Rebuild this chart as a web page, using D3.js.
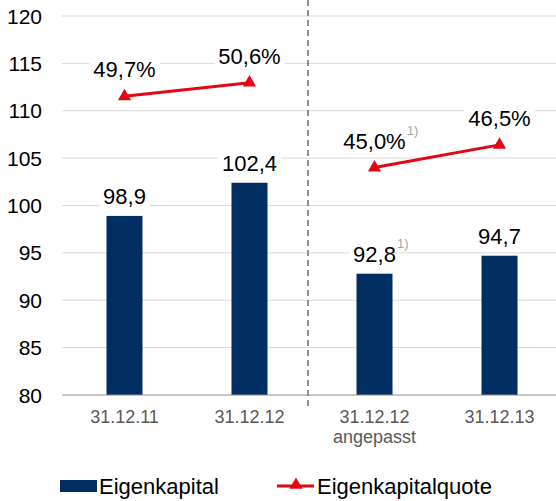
<!DOCTYPE html>
<html>
<head>
<script src="https://d3js.org/d3.v7.min.js"></script>
<style>
  body { margin: 0; background: #fff; }
  text { font-family: "Liberation Sans", Arial, sans-serif; }
</style>
</head>
<body>
<svg id="chart" width="556" height="501"></svg>
<script>
  // data
  var categories = ["31.12.11", "31.12.12", "31.12.12|angepasst", "31.12.13"];
  var eigenkapital = [98.9, 102.4, 92.8, 94.7];
  var quote = [49.7, 50.6, 45.0, 46.5];
  var barLabels = ["98,9", "102,4", "92,8", "94,7"];
  var quoteLabels = ["49,7%", "50,6%", "45,0%", "46,5%"];
  var footnote = [false, false, true, false];
  var yTicks = [80, 85, 90, 95, 100, 105, 110, 115, 120];

  var svg = d3.select("#chart");

  var x = d3.scaleBand().domain(categories).range([62, 562]).paddingInner(0).paddingOuter(0);
  var y = d3.scaleLinear().domain([80, 120]).range([395, 16]);
  var y2 = d3.scaleLinear().domain([30, 55]).range([395, 16]);
  var barW = 36;
  var cx = d => x(d) + x.bandwidth() / 2;

  // gridlines
  svg.selectAll("line.grid").data(yTicks.slice(1)).join("line")
    .attr("x1", 62).attr("x2", 556)
    .attr("y1", d => y(d)).attr("y2", d => y(d))
    .attr("stroke", "#d9d9d9").attr("stroke-width", 1);

  // y tick labels
  svg.selectAll("text.ytick").data(yTicks).join("text")
    .attr("x", 42).attr("y", d => y(d) + 7.5)
    .attr("text-anchor", "end")
    .style("font-size", "21px").attr("fill", "#000")
    .text(d => d);

  // bars
  svg.selectAll("rect.bar").data(eigenkapital).join("rect")
    .attr("x", (d, i) => cx(categories[i]) - barW / 2)
    .attr("width", barW)
    .attr("y", d => y(d))
    .attr("height", d => y(80) - y(d))
    .attr("fill", "#002d62");

  // axis line
  svg.append("line").attr("x1", 62).attr("x2", 556)
    .attr("y1", y(80)).attr("y2", y(80))
    .attr("stroke", "#8c8c8c").attr("stroke-width", 1);

  // divider
  svg.append("line")
    .attr("x1", 308).attr("x2", 308).attr("y1", 0).attr("y2", 410)
    .attr("stroke", "#6e6e6e").attr("stroke-width", 1.5)
    .attr("stroke-dasharray", "6,4");

  // label helper with white background so gridlines break behind
  function label(xp, yp, txt, size) {
    var g = svg.append("g");
    var t = g.append("text").attr("x", xp).attr("y", yp)
      .attr("text-anchor", "middle").style("font-size", size + "px")
      .attr("fill", "#000").text(txt);
    var b = t.node().getBBox();
    g.insert("rect", "text").attr("x", b.x - 4).attr("y", b.y)
      .attr("width", b.width + 8).attr("height", b.height).attr("fill", "#fff");
    return b;
  }

  function note(b) {
    svg.append("text").attr("x", b.x + b.width + 1).attr("y", b.y + 6)
      .style("font-size", "13px").attr("fill", "#a6a6a6").text("1)");
  }

  // bar value labels
  eigenkapital.forEach(function (v, i) {
    var b = label(cx(categories[i]), y(v) - 12, barLabels[i], 22);
    if (footnote[i]) note(b);
  });

  // line segments (two separate pairs)
  var line = d3.line().x(d => cx(categories[d])).y(d => y2(quote[d]));
  [[0, 1], [2, 3]].forEach(function (seg) {
    svg.append("path").attr("d", line(seg))
      .attr("fill", "none").attr("stroke", "#e30613").attr("stroke-width", 3);
  });

  var tri = d3.symbol().type(d3.symbolTriangle).size(75);
  svg.selectAll("path.marker").data(quote).join("path")
    .attr("transform", (d, i) => "translate(" + cx(categories[i]) + "," + y2(d) + ")")
    .attr("d", tri).attr("fill", "#e30613");

  // quote labels
  quote.forEach(function (v, i) {
    var b = label(cx(categories[i]), y2(v) - 19, quoteLabels[i], 22);
    if (footnote[i]) note(b);
  });

  // x labels
  categories.forEach(function (c) {
    var parts = c.split("|");
    parts.forEach(function (p, j) {
      svg.append("text").attr("x", cx(c)).attr("y", 423 + j * 20)
        .attr("text-anchor", "middle").style("font-size", "18px")
        .attr("fill", "#595959").text(p);
    });
  });

  // legend
  svg.append("rect").attr("x", 60).attr("y", 480).attr("width", 37).attr("height", 12).attr("fill", "#002d62");
  svg.append("text").attr("x", 99).attr("y", 494).style("font-size", "22px").text("Eigenkapital");
  svg.append("line").attr("x1", 277).attr("x2", 314).attr("y1", 486).attr("y2", 486)
    .attr("stroke", "#e30613").attr("stroke-width", 3);
  svg.append("path").attr("transform", "translate(296,485)").attr("d", tri).attr("fill", "#e30613");
  svg.append("text").attr("x", 317).attr("y", 494).style("font-size", "22px").text("Eigenkapitalquote");
</script>
</body>
</html>
